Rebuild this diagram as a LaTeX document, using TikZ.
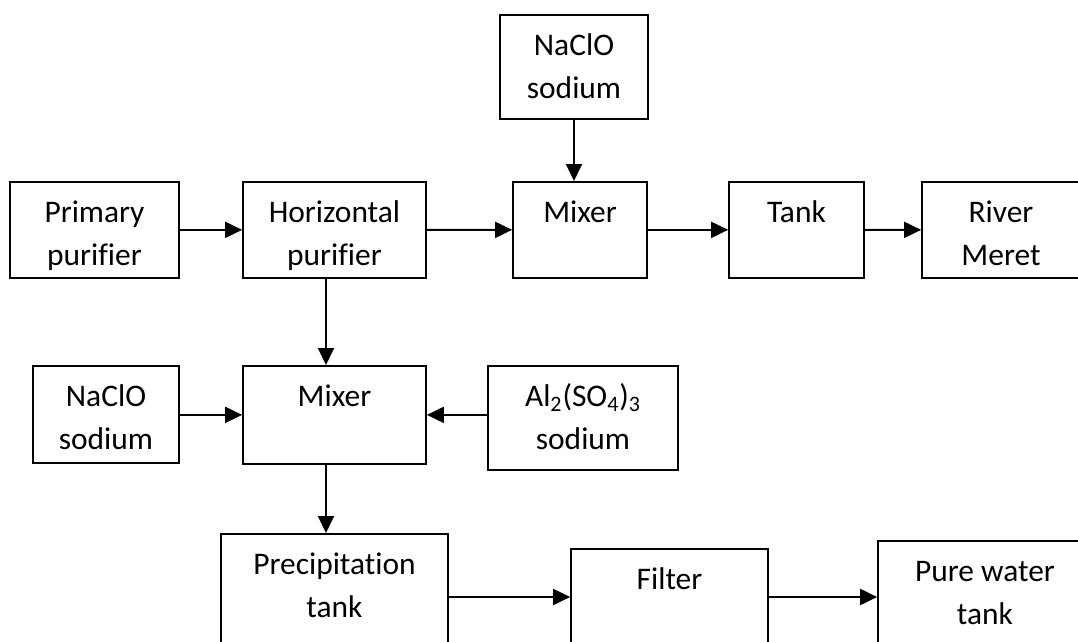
\documentclass[tikz,border=0pt]{standalone}
\usepackage{fontspec}
\setmainfont{Carlito}[Ligatures=NoCommon]
\usetikzlibrary{arrows.meta}

\begin{document}
\begin{tikzpicture}[x=0.02cm,y=-0.02cm]
\fontsize{17.9}{24.4}\selectfont
  % boxes hang from their top edge; text depth sets the rest of the height
  \tikzstyle{box}=[draw,line width=1pt,align=center,inner sep=0pt,anchor=north,text height=1.68cm]
  \tikzstyle{oneLine}=[text height=0.82cm]
  \tikzstyle{flow}=[line width=1.1pt,-{Triangle[length=0.34cm,width=0.32cm]}]

  \useasboundingbox (0,0) rectangle (1078,642);

  \begin{scope}
   % first line: purifiers and the outlet
   \node[box,minimum width=2.96cm,text depth=0.40cm](naclTop) at (574,14) {NaClO\\sodium};
   \node[box,minimum width=3.38cm,text depth=0.24cm](primary) at (94.5,181) {Primary\\purifier};
   \node[box,minimum width=3.66cm,text depth=0.24cm](horizontal) at (334.5,181) {Horizontal\\purifier};
   \node[box,oneLine,minimum width=2.68cm,text depth=1.10cm](mixerTop) at (580,181) {Mixer};
   \node[box,oneLine,minimum width=2.70cm,text depth=1.10cm](tank) at (796.5,181) {Tank};
   \node[box,minimum width=3.16cm,text depth=0.24cm](river) at (1001,181) {River\\Meret};
   \draw[flow] (primary) -- (horizontal);
   \draw[flow] (horizontal) -- (mixerTop);
   \draw[flow] (mixerTop) -- (tank);
   \draw[flow] (tank) -- (river);
   \draw[flow] (naclTop) -- (naclTop |- mixerTop.north);

   % second line: dosing
   \node[box,minimum width=2.92cm,text depth=0.26cm](naclLeft) at (106,365) {NaClO\\sodium};
   \node[box,oneLine,minimum width=3.66cm,text depth=1.14cm](mixerMid) at (334.5,365) {Mixer};
   \node[box,minimum width=3.80cm,text depth=0.40cm](alum) at (583,365) {Al\textsubscript{2}(SO\textsubscript{4})\textsubscript{3}\\sodium};
   \draw[flow] ([xshift=-0.17cm]horizontal.south) -- ([xshift=-0.17cm]mixerMid.north);
   \draw[flow] (naclLeft.east |- mixerMid.east) -- (mixerMid.east -| mixerMid.west);
   \draw[flow] (alum.west |- mixerMid.east) -- (mixerMid.east);

   % third line: clean water
   \coordinate (flowLine) at (0,597);
   \node[box,minimum width=4.54cm,text depth=0.92cm](precip) at (334.5,533) {Precipitation\\tank};
   \node[box,oneLine,minimum width=3.94cm,text depth=2.40cm](filter) at (669.5,548) {Filter};
   \node[box,minimum width=4.28cm,text depth=1.00cm](pure) at (985,540) {Pure water\\tank};
   \draw[flow] ([xshift=-0.17cm]mixerMid.south) -- ([xshift=-0.17cm]precip.north);
   \draw[flow] (precip.east |- flowLine) -- (filter.west |- flowLine);
   \draw[flow] (filter.east |- flowLine) -- (pure.west |- flowLine);
  \end{scope}

\end{tikzpicture}
\end{document}
